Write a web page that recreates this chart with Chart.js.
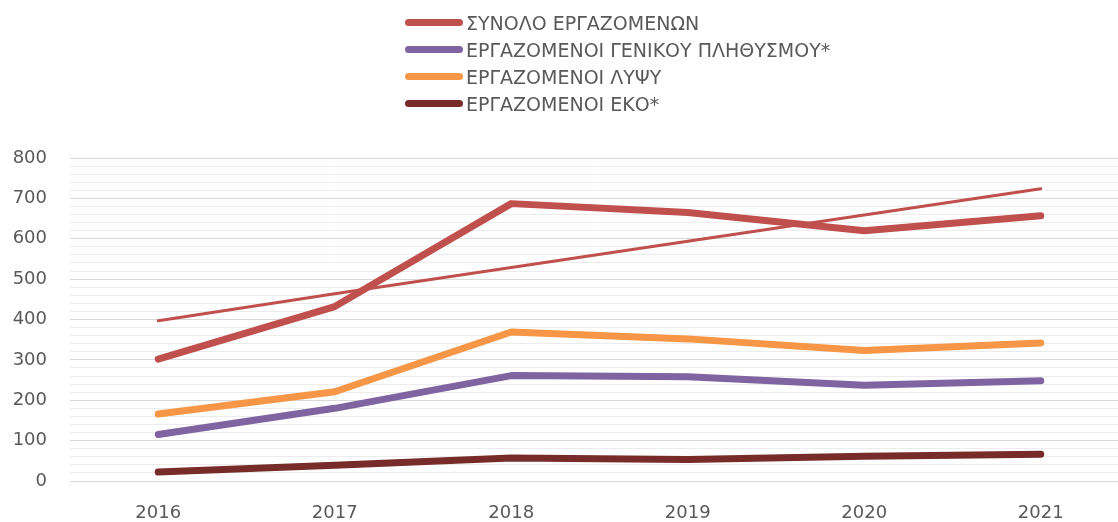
<!DOCTYPE html>
<html lang="el">
<head>
    <meta charset="UTF-8">
    <title>Εργαζόμενοι 2016-2021</title>
    <script src="https://cdn.jsdelivr.net/npm/chart.js"></script>
    <style>
        html, body {
            margin: 0;
            padding: 0;
            background: #fff;
            overflow: hidden;
        }
        .wrap {
            position: relative;
            width: 1130px;
            height: 522px;
        }
        #legend {
            position: absolute;
            left: 405px;
            top: 9px;
            font-family: "DejaVu Sans", sans-serif;
            font-size: 19px;
            color: #595959;
        }
        .legend-item {
            display: flex;
            align-items: center;
            height: 27px;
        }
        .legend-line {
            display: inline-block;
            width: 58px;
            height: 7px;
            border-radius: 4px;
            margin-right: 3px;
        }
    </style>
</head>
<body>
    <div class="wrap">
        <canvas id="chart" width="1130" height="522"></canvas>
        <div id="legend"></div>
    </div>
    <script>
        const years = ['2016', '2017', '2018', '2019', '2020', '2021'];

        const totalEmployed = [302, 432, 687, 665, 620, 657];
        const generalPopulation = [115, 180, 261, 258, 237, 248];
        const lypsEmployed = [166, 221, 369, 352, 323, 342];
        const ekoEmployed = [22, 39, 57, 53, 61, 66];
        // γραμμή τάσης του συνόλου, όπως διαβάζεται από την εικόνα
        const totalTrend = [397, 464, 529, 594, 659, 724];

        const seriesNames = [
            'ΣΥΝΟΛΟ ΕΡΓΑΖΟΜΕΝΩΝ',
            'ΕΡΓΑΖΟΜΕΝΟΙ ΓΕΝΙΚΟΥ ΠΛΗΘΥΣΜΟΥ*',
            'ΕΡΓΑΖΟΜΕΝΟΙ ΛΥΨΥ',
            'ΕΡΓΑΖΟΜΕΝΟΙ ΕΚΟ*'
        ];
        const seriesColors = ['#C0504D', '#8064A2', '#F79646', '#772C2A'];

        function lineSet(label, data, color, width) {
            return {
                label: label,
                data: data,
                borderColor: color,
                backgroundColor: color,
                borderWidth: width,
                borderCapStyle: 'round',
                borderJoinStyle: 'round',
                pointRadius: 0,
                pointHoverRadius: 0,
                fill: false,
                tension: 0
            };
        }

        const datasets = [
            lineSet('trend', totalTrend, seriesColors[0], 3),
            lineSet(seriesNames[3], ekoEmployed, seriesColors[3], 7),
            lineSet(seriesNames[1], generalPopulation, seriesColors[1], 7),
            lineSet(seriesNames[2], lypsEmployed, seriesColors[2], 7),
            lineSet(seriesNames[0], totalEmployed, seriesColors[0], 7)
        ];

        const ctx = document.getElementById('chart').getContext('2d');
        const chart = new Chart(ctx, {
            type: 'line',
            data: { labels: years, datasets: datasets },
            options: {
                responsive: false,
                animation: false,
                layout: { padding: { top: 158, right: 1, left: 0, bottom: 0 } },
                plugins: {
                    legend: { display: false },
                    tooltip: { enabled: false }
                },
                scales: {
                    x: {
                        offset: true,
                        afterFit: function (scale) { scale.height = 41; },
                        grid: { display: false, drawTicks: false },
                        border: { display: false },
                        ticks: {
                            color: '#595959',
                            padding: 22,
                            font: { family: 'DejaVu Sans', size: 18 }
                        }
                    },
                    y: {
                        min: 0,
                        max: 800,
                        afterFit: function (scale) { scale.width = 70; },
                        border: { display: false },
                        grid: {
                            drawTicks: false,
                            lineWidth: 1,
                            color: c => (c.tick && c.tick.value % 100 === 0) ? '#d9d9d9' : '#ececec'
                        },
                        ticks: {
                            stepSize: 20,
                            autoSkip: false,
                            padding: 23,
                            color: '#595959',
                            font: { family: 'DejaVu Sans', size: 18 },
                            callback: v => (v % 100 === 0 ? v : '')
                        }
                    }
                }
            }
        });

        const legend = document.getElementById('legend');
        seriesNames.forEach((name, i) => {
            const row = document.createElement('div');
            row.className = 'legend-item';
            const sw = document.createElement('span');
            sw.className = 'legend-line';
            sw.style.background = seriesColors[i];
            const txt = document.createElement('span');
            txt.textContent = name;
            row.appendChild(sw);
            row.appendChild(txt);
            legend.appendChild(row);
        });
    </script>
</body>
</html>
